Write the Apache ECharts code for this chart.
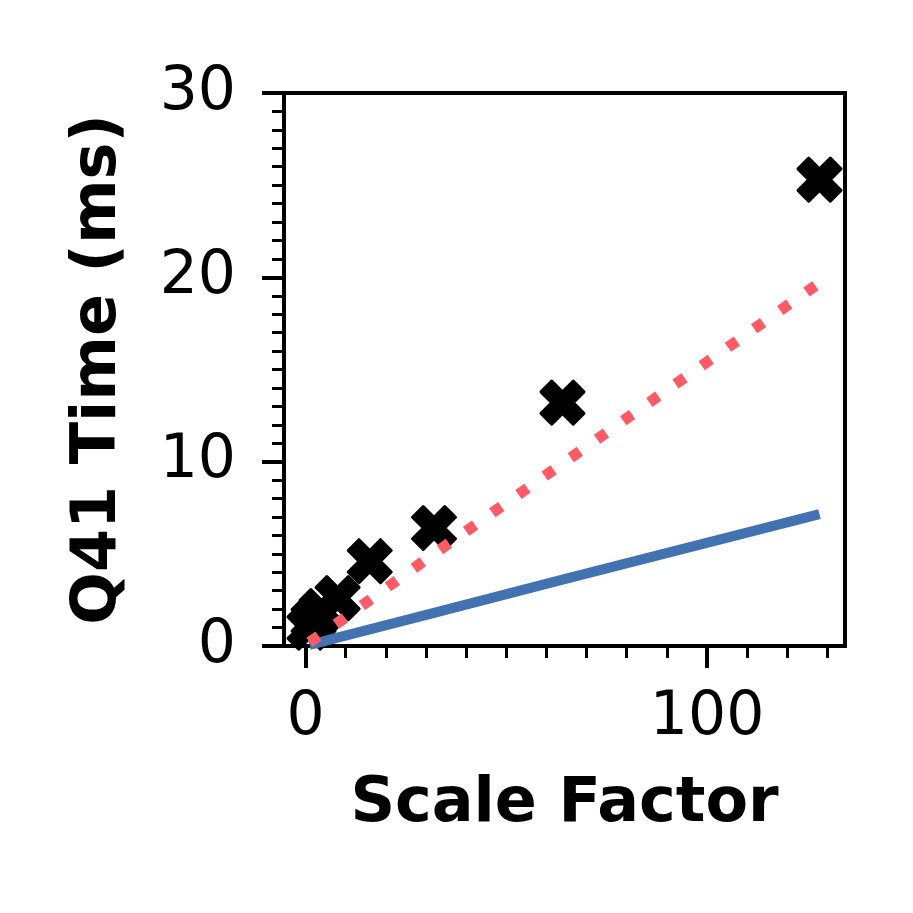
<!DOCTYPE html>
<html>
<head>
<meta charset="utf-8">
<script src="https://cdn.jsdelivr.net/npm/echarts@6/dist/echarts.min.js"></script>
<style>
  html, body { margin: 0; padding: 0; background: #fff; }
  #chart { width: 913px; height: 913px; }
</style>
</head>
<body>
<div id="chart"></div>
<script>
// scale factors on the x axis
const scaleFactors = [1, 2, 4, 8, 16, 32, 64, 128];
// measured Q41 times (black crosses)
const measured = [1.0, 1.4, 1.9, 2.6, 4.6, 6.4, 13.2, 25.3];
// dotted red reference line
const redLine = [0.2, 0.35, 0.65, 1.25, 2.5, 5.0, 9.9, 19.7];
// solid blue reference line
const blueLine = [0.06, 0.11, 0.22, 0.45, 0.9, 1.8, 3.6, 7.15];
// tick values
const xMajorTicks = [0, 100];
const xMinorTicks = [10, 20, 30, 40, 50, 60, 70, 80, 90, 110, 120, 130];

const FONT = 'DejaVu Sans';
const X_MIN = -5.35, X_MAX = 134.35;

const pairs = (xs, ys) => xs.map((x, i) => [x, ys[i]]);

const crossPath = 'path://M2.5,0 L5,2.5 L7.5,0 L10,2.5 L7.5,5 L10,7.5 L7.5,10 L5,7.5 L2.5,10 L0,7.5 L2.5,5 L0,2.5 Z';

const chart = echarts.init(document.getElementById('chart'));
chart.setOption({
  animation: false,
  backgroundColor: '#fff',
  grid: {
    left: 284, top: 93, width: 561, height: 553,
    show: true, borderColor: '#000', borderWidth: 4, backgroundColor: 'transparent'
  },
  xAxis: [
    {
      type: 'value', min: X_MIN, max: X_MAX,
      splitLine: { show: false },
      axisLine: { show: true, onZero: false, lineStyle: { color: '#000', width: 4 } },
      axisTick: { show: true, customValues: xMajorTicks, length: 22, lineStyle: { color: '#000', width: 4 } },
      axisLabel: { customValues: xMajorTicks, margin: 42, fontFamily: FONT, fontSize: 60, color: '#000' },
      name: 'Scale Factor', nameLocation: 'middle', nameGap: 128,
      nameTextStyle: { fontFamily: FONT, fontSize: 62, fontWeight: 'bold', color: '#000' }
    },
    {
      type: 'value', min: X_MIN, max: X_MAX, position: 'bottom',
      splitLine: { show: false },
      axisLine: { show: false, onZero: false },
      axisTick: { show: true, customValues: xMinorTicks, length: 12, lineStyle: { color: '#000', width: 3 } },
      axisLabel: { show: false }
    }
  ],
  yAxis: {
    type: 'value', min: 0, max: 30, interval: 10,
    splitLine: { show: false },
    axisLine: { show: true, onZero: false, lineStyle: { color: '#000', width: 4 } },
    axisTick: { show: true, length: 22, lineStyle: { color: '#000', width: 4 } },
    minorTick: { show: true, splitNumber: 10, length: 12, lineStyle: { color: '#000', width: 3 } },
    axisLabel: { margin: 48, fontFamily: FONT, fontSize: 60, color: '#000' },
    name: 'Q41 Time (ms)', nameLocation: 'middle', nameGap: 154, nameRotate: 90,
    nameTextStyle: { fontFamily: FONT, fontSize: 62, fontWeight: 'bold', color: '#000' }
  },
  series: [
    {
      type: 'scatter', z: 2,
      data: pairs(scaleFactors, measured),
      symbol: crossPath, symbolSize: 43,
      itemStyle: { color: '#000', opacity: 1, borderColor: '#000', borderWidth: 3, borderJoin: 'round' }
    },
    {
      type: 'line', z: 3,
      data: pairs(scaleFactors, blueLine),
      showSymbol: false, symbol: 'none',
      lineStyle: { color: '#4272b0', width: 10, cap: 'butt' }
    },
    {
      type: 'line', z: 4,
      data: pairs(scaleFactors, redLine),
      showSymbol: false, symbol: 'none',
      lineStyle: { color: '#ff5a66', width: 11, type: [11, 21], cap: 'butt' }
    }
  ]
});
</script>
</body>
</html>
